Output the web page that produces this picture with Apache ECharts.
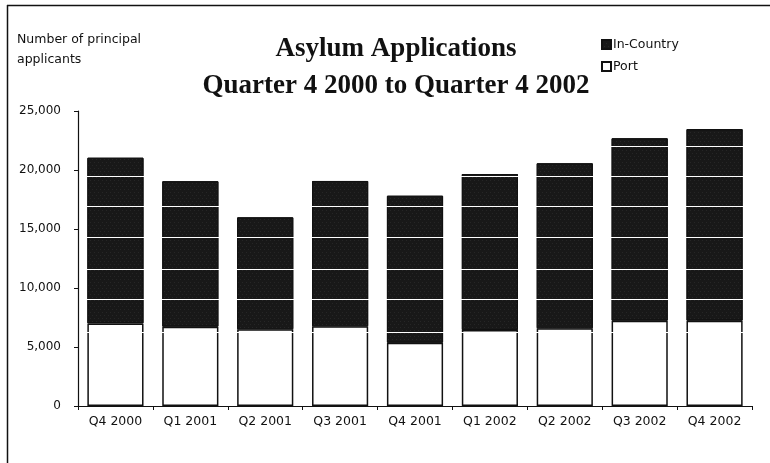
<!DOCTYPE html>
<html>
<head>
<meta charset="utf-8">
<script src="https://cdn.jsdelivr.net/npm/echarts@6/dist/echarts.min.js"></script>
<style>
html,body{margin:0;padding:0;background:#fff;}
#chart{width:770px;height:463px;}
</style>
</head>
<body>
<div id="chart"></div>
<script>
// quarters on the x axis
var quarters = ['Q4 2000','Q1 2001','Q2 2001','Q3 2001','Q4 2001','Q1 2002','Q2 2002','Q3 2002','Q4 2002'];
// applications at port (bottom part of each bar)
var port = [7000, 6720, 6500, 6750, 5360, 6440, 6580, 7230, 7230];
// applications made in-country (top part)
var inCountry = [14040, 12330, 9490, 12320, 12460, 13220, 13990, 15460, 16240];
// light streaks running across the dark blocks
var stripeLevels = [6250, 9040, 11610, 14260, 16890, 19430, 22000];
var yTicks = [0, 5000, 10000, 15000, 20000, 25000];

var font = 'DejaVu Sans, Verdana, sans-serif';
var myChart = echarts.init(document.getElementById('chart'));

var option = {
	backgroundColor:'#fff',
	animation:false,
	title:{
		text:'Asylum Applications\nQuarter 4 2000 to Quarter 4 2002',
		left:391,
		top:26,
		textAlign:'center',
		textStyle:{
			fontFamily:'Liberation Serif, Times New Roman, serif',
			fontWeight:'bold',
			fontSize:27,
			lineHeight:37,
			color:'#111'
		}
	},
	legend:{
		orient:'vertical',
		left:596,
		top:33,
		itemWidth:9,
		itemHeight:9,
		itemGap:9,
		icon:'rect',
		data:['In-Country','Port'],
		textStyle:{fontFamily:font,fontSize:12.5,color:'#111',padding:[0,0,0,-3]}
	},
	graphic:[
		// frame around the chart
		{type:'line',shape:{x1:7,y1:5.5,x2:770,y2:5.5},style:{stroke:'#111',lineWidth:1.5}},
		{type:'line',shape:{x1:7.5,y1:5,x2:7.5,y2:463},style:{stroke:'#111',lineWidth:1.5}},
		{type:'text',left:17,top:30,style:{
			text:'Number of principal\napplicants',
			font:'12.5px '+font,
			lineHeight:20,
			fill:'#111'
		}}
	],
	grid:{left:78,right:18,top:111,bottom:57},
	xAxis:{
		type:'category',
		data:quarters,
		axisLine:{lineStyle:{color:'#111',width:1.2}},
		axisTick:{show:true,length:4,lineStyle:{color:'#111'}},
		axisLabel:{fontFamily:font,fontSize:12.5,color:'#111',margin:9}
	},
	yAxis:{
		type:'value',
		min:0,
		max:25000,
		interval:5000,
		z:5,
		axisLine:{show:true,lineStyle:{color:'#111',width:1.2}},
		axisTick:{show:true,length:4,lineStyle:{color:'#111'}},
		splitLine:{show:false},
		axisLabel:{
			fontFamily:font,fontSize:12,color:'#111',margin:17,
			formatter:function(v){ return yTicks.indexOf(v)>=0 ? v.toLocaleString('en-US') : ''; }
		}
	},
	series:[
		{
			name:'Port',
			type:'bar',
			stack:'total',
			barWidth:'75%',
			z:3,
			data:port,
			itemStyle:{color:'#fff',borderColor:'#111',borderWidth:1.5}
		},
		{
			name:'In-Country',
			type:'bar',
			stack:'total',
			barWidth:'75%',
			z:2,
			data:inCountry,
			itemStyle:{
				color:'#181818',
				borderColor:'#111',
				borderWidth:1,
				decal:{
					symbol:'rect',
					symbolSize:0.5,
					color:'rgba(255,255,255,0.25)',
					dashArrayX:[[1,3],[0,2,1,1]],
					dashArrayY:[1,2]
				}
			},
			markLine:{
				silent:true,
				symbol:'none',
				label:{show:false},
				lineStyle:{color:'#fff',width:1,type:'solid'},
				data:stripeLevels.map(function(v){ return {yAxis:v}; })
			}
		}
	]
};

myChart.setOption(option, true);
</script>
</body>
</html>
